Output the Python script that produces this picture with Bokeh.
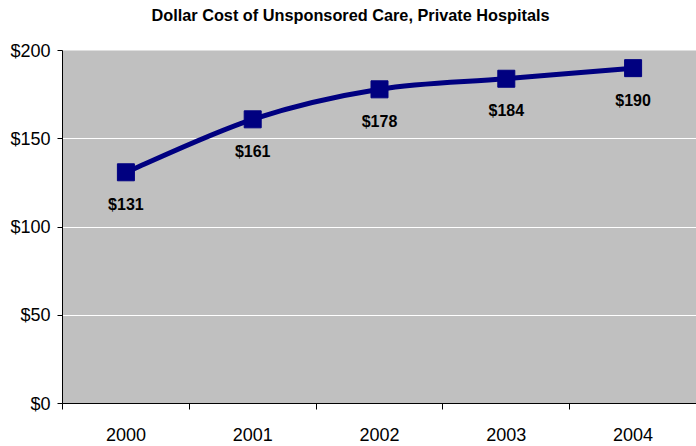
from bokeh.plotting import figure
from bokeh.models import Range1d, FixedTicker, NumeralTickFormatter, ColumnDataSource, Title
from bokeh.core.properties import value
from bokeh.embed import file_html
from bokeh.resources import INLINE

years = ["2000", "2001", "2002", "2003", "2004"]
costs = [131, 161, 178, 184, 190]
cost_labels = ["$131", "$161", "$178", "$184", "$190"]
y_ticks = [0, 50, 100, 150, 200]
title_text = "Dollar Cost of Unsponsored Care, Private Hospitals"

NAVY = "#000080"
FONT = "Liberation Sans, Arial, sans-serif"

xs = list(range(len(years)))

p = figure(width=696, height=446, output_backend="svg", toolbar_location=None,
           x_range=Range1d(-0.5, len(years) - 0.5), y_range=Range1d(0, 200),
           min_border_left=62, min_border_right=0, min_border_top=50, min_border_bottom=43)

# spacer between frame and title, then the title itself
p.add_layout(Title(text=" ", text_font_size="1px", standoff=24), "above")
p.add_layout(Title(text=title_text, align="left", offset=89, standoff=0,
                   text_font=FONT, text_font_size="16.3px", text_font_style="bold",
                   text_color="black"), "above")

p.background_fill_color = "#C0C0C0"
p.border_fill_color = "white"
p.outline_line_color = None

# y axis
p.yaxis.ticker = FixedTicker(ticks=y_ticks, minor_ticks=[])
p.yaxis.formatter = NumeralTickFormatter(format="$0")
p.yaxis.major_label_text_font = FONT
p.yaxis.major_label_text_font_size = "18px"
p.yaxis.major_label_text_color = "black"
p.yaxis.major_tick_out = 5
p.yaxis.major_tick_in = 0
p.yaxis.major_label_standoff = 7
p.yaxis.axis_line_color = "black"
p.yaxis.major_tick_line_color = "black"

# x axis: labels at centers, tick marks at category boundaries
p.xaxis.ticker = FixedTicker(ticks=xs, minor_ticks=[i - 0.5 for i in range(len(years) + 1)])
p.xaxis.major_label_overrides = {i: y for i, y in zip(xs, years)}
p.xaxis.major_label_text_font = FONT
p.xaxis.major_label_text_font_size = "18px"
p.xaxis.major_label_text_color = "black"
p.xaxis.major_tick_line_color = None
p.xaxis.major_tick_out = 0
p.xaxis.major_tick_in = 0
p.xaxis.minor_tick_line_color = "black"
p.xaxis.minor_tick_out = 6
p.xaxis.minor_tick_in = 0
p.xaxis.major_label_standoff = 18
p.xaxis.axis_line_color = "black"

p.xgrid.grid_line_color = None
p.ygrid.grid_line_color = "white"
p.ygrid.grid_line_width = 1

# smoothed line via bezier segments derived from the data points
n = len(xs)
seg = dict(x0=[], y0=[], x1=[], y1=[], cx0=[], cy0=[], cx1=[], cy1=[])
for i in range(n - 1):
    a = max(i - 1, 0)
    d = min(i + 2, n - 1)
    seg["x0"].append(xs[i]); seg["y0"].append(costs[i])
    seg["x1"].append(xs[i + 1]); seg["y1"].append(costs[i + 1])
    seg["cx0"].append(xs[i] + (xs[i + 1] - xs[a]) / 6)
    seg["cy0"].append(costs[i] + (costs[i + 1] - costs[a]) / 6)
    seg["cx1"].append(xs[i + 1] - (xs[d] - xs[i]) / 6)
    seg["cy1"].append(costs[i + 1] - (costs[d] - costs[i]) / 6)
p.bezier(source=ColumnDataSource(seg), x0="x0", y0="y0", x1="x1", y1="y1",
         cx0="cx0", cy0="cy0", cx1="cx1", cy1="cy1", line_color=NAVY, line_width=5)

src = ColumnDataSource(dict(x=xs, y=costs, label=cost_labels))
p.scatter(x="x", y="y", source=src, marker="square", size=17, color=NAVY)
p.text(x="x", y="y", text="label", source=src, y_offset=32,
       text_font=value(FONT), text_font_size="16px", text_font_style="bold",
       text_align="center", text_baseline="middle", text_color="black")

open("out.html", "w").write(file_html(p, INLINE))
